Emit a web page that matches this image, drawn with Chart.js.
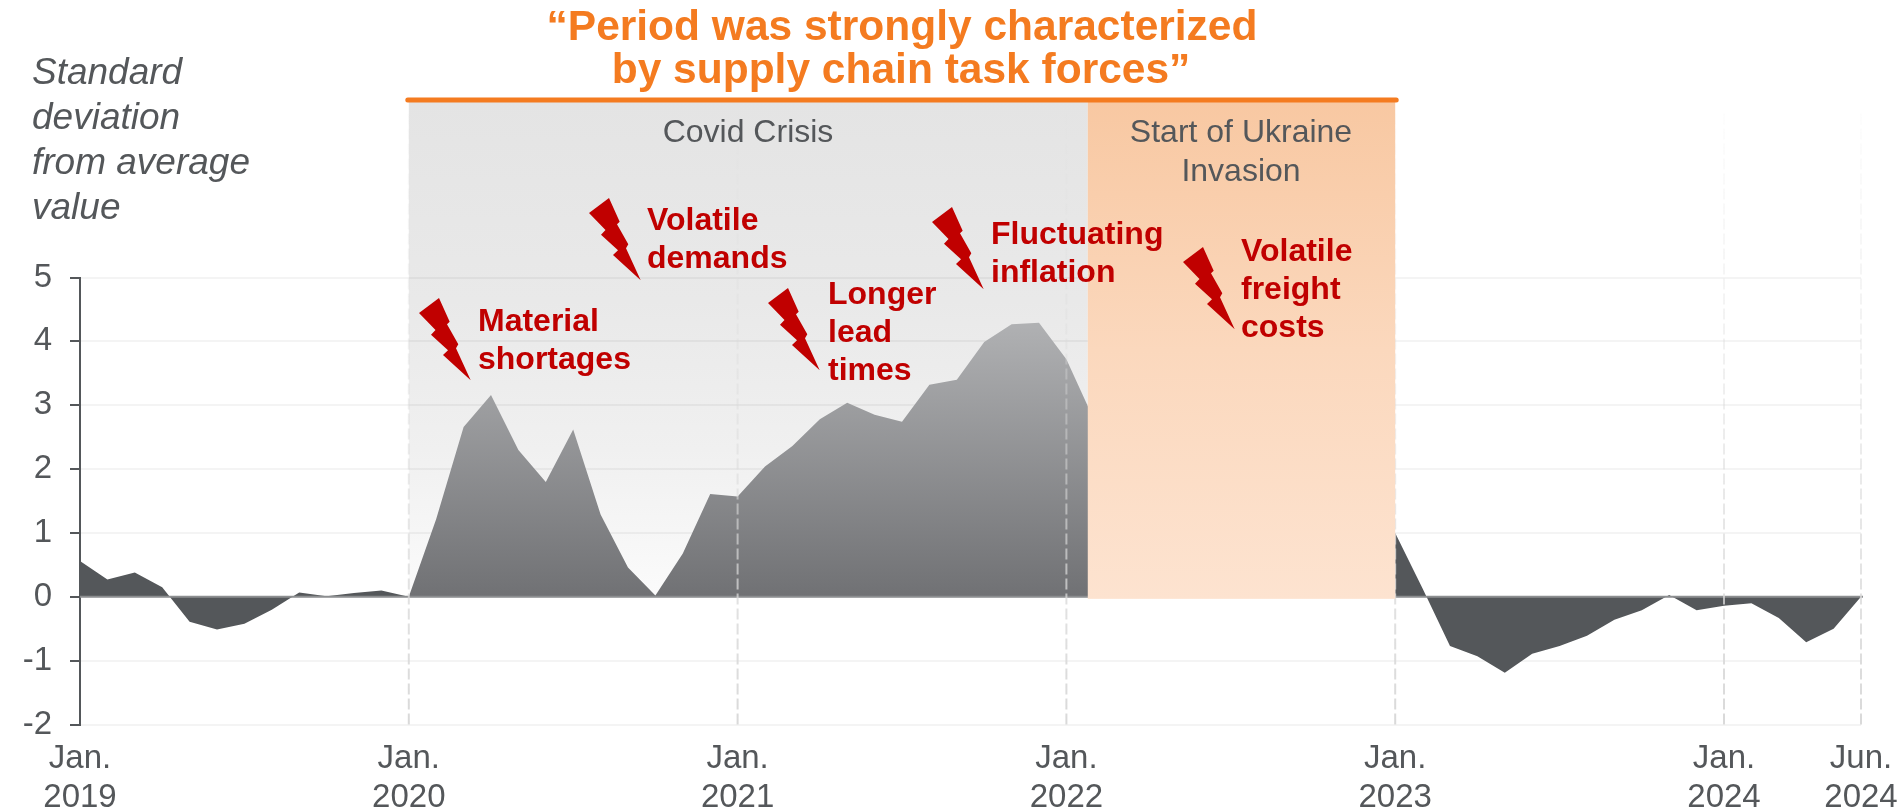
<!DOCTYPE html>
<html>
<head>
<meta charset="utf-8">
<title>Standard deviation from average value</title>
<script src="https://cdn.jsdelivr.net/npm/chart.js@4"></script>
<style>
  html, body { margin: 0; padding: 0; background: #fff; }
  canvas { display: block; }
</style>
</head>
<body>
<canvas id="chart" width="1900" height="808"></canvas>
<script>
// monthly values, Jan 2019 to Jun 2024. null = hidden behind the Ukraine panel
var values2019 = [0.56, 0.27, 0.38, 0.15, -0.39, -0.51, -0.42, -0.2, 0.07, 0.01, 0.06, 0.1];
var values2020 = [0, 1.22, 2.66, 3.16, 2.3, 1.8, 2.62, 1.29, 0.46, 0.02, 0.68, 1.61];
var values2021 = [1.57, 2.04, 2.36, 2.78, 3.04, 2.85, 2.74, 3.32, 3.4, 3.99, 4.27, 4.29];
var values2022 = [3.72, 2.78, null, null, null, null, null, null, null, null, null, null];
var values2023 = [1, 0.13, -0.77, -0.93, -1.19, -0.89, -0.77, -0.61, -0.36, -0.21, 0.03, -0.21];
var values2024 = [-0.14, -0.1, -0.33, -0.71, -0.5, 0];

var tickMonths = [0, 12, 24, 36, 48, 60, 65];
var tickLabels = [["Jan.", "2019"], ["Jan.", "2020"], ["Jan.", "2021"], ["Jan.", "2022"], ["Jan.", "2023"], ["Jan.", "2024"], ["Jun.", "2024"]];
var dashedMonths = [12, 24, 36, 48, 60, 65];

var values = [].concat(values2019, values2020, values2021, values2022, values2023, values2024);
var months = values.map(function(v, i) { return i; });

var COVID_START = 12, UKRAINE_START = 36.78, UKRAINE_END = 48;
var GREY = "#54575a", ORANGE = "#f47b20", RED = "#c00000";
var FONT = '"Liberation Sans", Arial, sans-serif';

// shape of one lightning bolt, offsets from its top left corner
var bolt = [[20, 0], [30.7, 23.7], [28, 26.3], [39.3, 46.3], [37, 50.3], [51.7, 82.3], [24, 57], [29, 52.3], [12, 36.7], [16.5, 32], [0, 15]];

var callouts = [
  { boltAt: [419, 298], x: 478, y: 322, lines: ["Material", "shortages"] },
  { boltAt: [589, 198], x: 647, y: 221, lines: ["Volatile", "demands"] },
  { boltAt: [768, 288], x: 828, y: 295, lines: ["Longer", "lead", "times"] },
  { boltAt: [932, 207], x: 991, y: 235, lines: ["Fluctuating", "inflation"] },
  { boltAt: [1183, 247], x: 1241, y: 252, lines: ["Volatile", "freight", "costs"] }
];

function inCovid(i) { return i >= COVID_START && i < UKRAINE_END; }

function text(ctx, str, x, y, font, color, align) {
  ctx.font = font;
  ctx.fillStyle = color;
  ctx.textAlign = align || "left";
  ctx.textBaseline = "middle";
  ctx.fillText(str, x, y);
}

var panelsBehind = {
  id: "panelsBehind",
  beforeDraw: function(chart) {
    var ctx = chart.ctx, xs = chart.scales.x, ys = chart.scales.y;
    var left = xs.getPixelForValue(COVID_START), right = xs.getPixelForValue(UKRAINE_START);
    var bottom = ys.getPixelForValue(0) + 1;
    var g = ctx.createLinearGradient(0, 102, 0, bottom);
    g.addColorStop(0, "#e4e4e4");
    g.addColorStop(0.4, "#e9e9e9");
    g.addColorStop(0.7, "#f0f0f0");
    g.addColorStop(1, "#fbfbfb");
    ctx.save();
    ctx.fillStyle = g;
    ctx.fillRect(left, 102, right - left, bottom - 102);
    ctx.restore();
  }
};

var panelsFront = {
  id: "panelsFront",
  afterDatasetsDraw: function(chart) {
    var ctx = chart.ctx, xs = chart.scales.x, ys = chart.scales.y;
    var zero = ys.getPixelForValue(0);
    var i, k, px;
    ctx.save();

    // zero line
    ctx.strokeStyle = "#8c8e90";
    ctx.lineWidth = 2;
    ctx.beginPath();
    ctx.moveTo(xs.left, zero);
    ctx.lineTo(xs.right + 2, zero);
    ctx.stroke();

    // dashed year lines, fading out towards the top
    ctx.lineWidth = 2;
    ctx.setLineDash([11, 4]);
    for (i = 0; i < dashedMonths.length; i++) {
      px = xs.getPixelForValue(dashedMonths[i]);
      var g = ctx.createLinearGradient(0, 112, 0, ys.bottom);
      g.addColorStop(0, "rgba(217,217,217,0.05)");
      g.addColorStop(0.5, "rgba(217,217,217,0.45)");
      g.addColorStop(1, "rgba(217,217,217,1)");
      ctx.strokeStyle = g;
      ctx.beginPath();
      ctx.moveTo(px, ys.bottom);
      ctx.lineTo(px, 112);
      ctx.stroke();
    }
    ctx.setLineDash([]);

    // Ukraine panel sits on top of the area
    var left = xs.getPixelForValue(UKRAINE_START), right = xs.getPixelForValue(UKRAINE_END);
    var og = ctx.createLinearGradient(0, 102, 0, zero + 2);
    og.addColorStop(0, "#f8c8a2");
    og.addColorStop(0.5, "#fbd8bd");
    og.addColorStop(1, "#fde3d0");
    ctx.fillStyle = og;
    ctx.fillRect(left, 102, right - left, zero + 2 - 102);

    // orange bar
    ctx.strokeStyle = ORANGE;
    ctx.lineWidth = 5;
    ctx.lineCap = "round";
    ctx.beginPath();
    ctx.moveTo(xs.getPixelForValue(COVID_START) - 1, 100);
    ctx.lineTo(right + 1, 100);
    ctx.stroke();

    // quote
    var titleFont = "bold 42.5px " + FONT;
    text(ctx, "\u201cPeriod was strongly characterized", 902, 28, titleFont, ORANGE, "center");
    text(ctx, "by supply chain task forces\u201d", 901, 71, titleFont, ORANGE, "center");

    // axis title
    var axisFont = "italic 37px " + FONT;
    var axisLines = ["Standard", "deviation", "from average", "value"];
    for (i = 0; i < axisLines.length; i++) {
      text(ctx, axisLines[i], 32, 74 + i * 45, axisFont, GREY);
    }

    // panel captions
    var capFont = "32px " + FONT;
    text(ctx, "Covid Crisis", 748, 133, capFont, GREY, "center");
    text(ctx, "Start of Ukraine", 1241, 133, capFont, GREY, "center");
    text(ctx, "Invasion", 1241, 172, capFont, GREY, "center");

    // bolts and their callouts
    for (i = 0; i < callouts.length; i++) {
      var c = callouts[i];
      ctx.fillStyle = RED;
      ctx.beginPath();
      for (k = 0; k < bolt.length; k++) {
        ctx.lineTo(c.boltAt[0] + bolt[k][0], c.boltAt[1] + bolt[k][1]);
      }
      ctx.closePath();
      ctx.fill();
      for (k = 0; k < c.lines.length; k++) {
        text(ctx, c.lines[k], c.x, c.y + k * 38, "bold 32px " + FONT, RED);
      }
    }
    ctx.restore();
  }
};

function covidFill(context) {
  var area = context.chart.chartArea;
  if (!area) return "#8a8b8e";
  var ys = context.chart.scales.y;
  var g = context.chart.ctx.createLinearGradient(0, ys.getPixelForValue(4.3), 0, ys.getPixelForValue(0));
  g.addColorStop(0, "#b0b1b3");
  g.addColorStop(1, "#707174");
  return g;
}

var chart = new Chart(document.getElementById("chart").getContext("2d"), {
  type: "line",
  plugins: [panelsBehind, panelsFront],
  data: {
    labels: months,
    datasets: [
      {
        label: "Outside crisis",
        data: values.map(function(v, i) { return (i <= COVID_START || i >= UKRAINE_END) ? v : null; }),
        backgroundColor: GREY,
        fill: "origin",
        borderWidth: 0,
        pointRadius: 0,
        tension: 0
      },
      {
        label: "Covid crisis",
        data: values.map(function(v, i) { return inCovid(i) ? v : null; }),
        backgroundColor: covidFill,
        fill: "origin",
        borderWidth: 0,
        pointRadius: 0,
        tension: 0
      }
    ]
  },
  options: {
    responsive: false,
    animation: false,
    layout: { padding: { left: 0, right: 39, top: 277.5, bottom: 0 } },
    plugins: {
      legend: { display: false },
      title: { display: false },
      tooltip: { enabled: false }
    },
    scales: {
      x: {
        type: "category",
        afterFit: function(scale) {
          scale.height = 83.4;
          // keep the plot edge where the layout padding puts it
          scale.paddingLeft = 0;
          scale.paddingRight = 0;
        },
        grid: { display: false, drawTicks: false },
        border: { display: false },
        ticks: {
          autoSkip: false,
          maxRotation: 0,
          padding: 15,
          color: GREY,
          font: { family: FONT, size: 33, lineHeight: 1.18 },
          callback: function(value, index) {
            var at = tickMonths.indexOf(index);
            return at === -1 ? "" : tickLabels[at];
          }
        }
      },
      y: {
        min: -2,
        max: 5,
        afterFit: function(scale) { scale.width = 80; },
        grid: {
          color: "rgba(0,0,0,0.045)",
          lineWidth: 2,
          tickColor: GREY,
          tickLength: 10,
          tickWidth: 2
        },
        border: { color: GREY, width: 2 },
        ticks: {
          stepSize: 1,
          padding: 18,
          color: GREY,
          font: { family: FONT, size: 33 }
        }
      }
    }
  }
});
</script>
</body>
</html>
